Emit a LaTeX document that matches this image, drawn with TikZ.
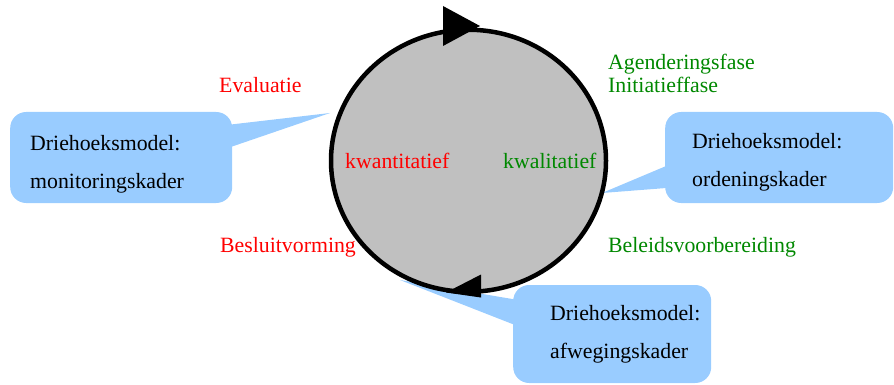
\documentclass[tikz,border=0pt]{standalone}
\usepackage{fontspec}
\setmainfont{Liberation Serif}
\usepackage{xcolor}
\usetikzlibrary{shapes.geometric, positioning, calc, backgrounds}
\definecolor{callblue}{RGB}{153,204,255}
\definecolor{cyclegray}{RGB}{192,192,192}
\definecolor{phasegreen}{RGB}{0,136,0}
\hyphenpenalty=10000

\begin{document}
\begin{tikzpicture}[
  x=1pt, y=-1pt,
  callbox/.style={fill=callblue, rounded corners=16pt, align=left, anchor=base west,
                  inner ysep=10pt, font=\fontsize{21.8}{38}\selectfont},
  callptr/.style={fill=callblue},
  phase/.style={anchor=base west, inner sep=0pt, font=\fontsize{21.8}{26}\selectfont},
  redlab/.style={phase, text=red},
  greenlab/.style={phase, text=phasegreen},
  headtip/.style={fill=black},
]
\useasboundingbox (0,0) rectangle (894,385);

% cycle
\node[draw, ellipse, line width=4.5pt, fill=cyclegray, minimum width=275pt,
      minimum height=262pt, inner sep=0pt] (cyc) at (468.5,160.75) {};
\fill[headtip] ($(cyc.north)+(11.5,-1.5)$) -- ++(-37,-20) -- ++(0,40) -- cycle;
\fill[headtip] ($(cyc.south)+(-22.5,-1.5)$) -- ++(35,-18) -- ++(0,23) -- cycle;
\node[redlab]   (kwant) at (345,168) {kwantitatief};
\node[greenlab] (kwal)  at (503,168) {kwalitatief};

% phases
\node[redlab]   (eval)   at (219,93)  {Evaluatie};
\node[redlab]   (besl)   at (220,252) {Besluitvorming};
\node[greenlab] (agenda) at (608,70)  {Agenderingsfase};
\node[greenlab] (init)   at (608,93)  {Initiatieffase};
\node[greenlab] (belv)   at (608,252) {Beleidsvoorbereiding};

% callouts
\node[callbox, inner xsep=20pt, text width=182pt, text height=28pt, text depth=43pt]
  (mon) at (10,150) {Driehoeksmodel:\\monitoringskader};
\node[callbox, inner xsep=27pt, text width=174pt, text height=26.5pt, text depth=44.5pt]
  (ord) at (665,148.5) {Driehoeksmodel:\\ordeningskader};
\node[callbox, inner xsep=37pt, text width=124pt, text height=25pt, text depth=53pt]
  (afw) at (513,320) {Driehoeksmodel:\\afwegingskader};

\coordinate (montip) at (330,113);
\coordinate (ordtip) at (602,193);
\coordinate (afwtip) at (400,280);

\begin{scope}[on background layer]
\fill[callptr] ($(mon.north east)+(-4,13)$) -- (montip) -- ($(mon.north east)+(-4,36)$) -- cycle;
\fill[callptr] ($(ord.north west)+(4,53)$) -- (ordtip) -- ($(ord.north west)+(4,76)$) -- cycle;
\fill[callptr] ($(afw.north west)+(4,15)$) -- (afwtip) -- ($(afw.north west)+(4,41)$) -- cycle;
\end{scope}

\end{tikzpicture}
\end{document}
